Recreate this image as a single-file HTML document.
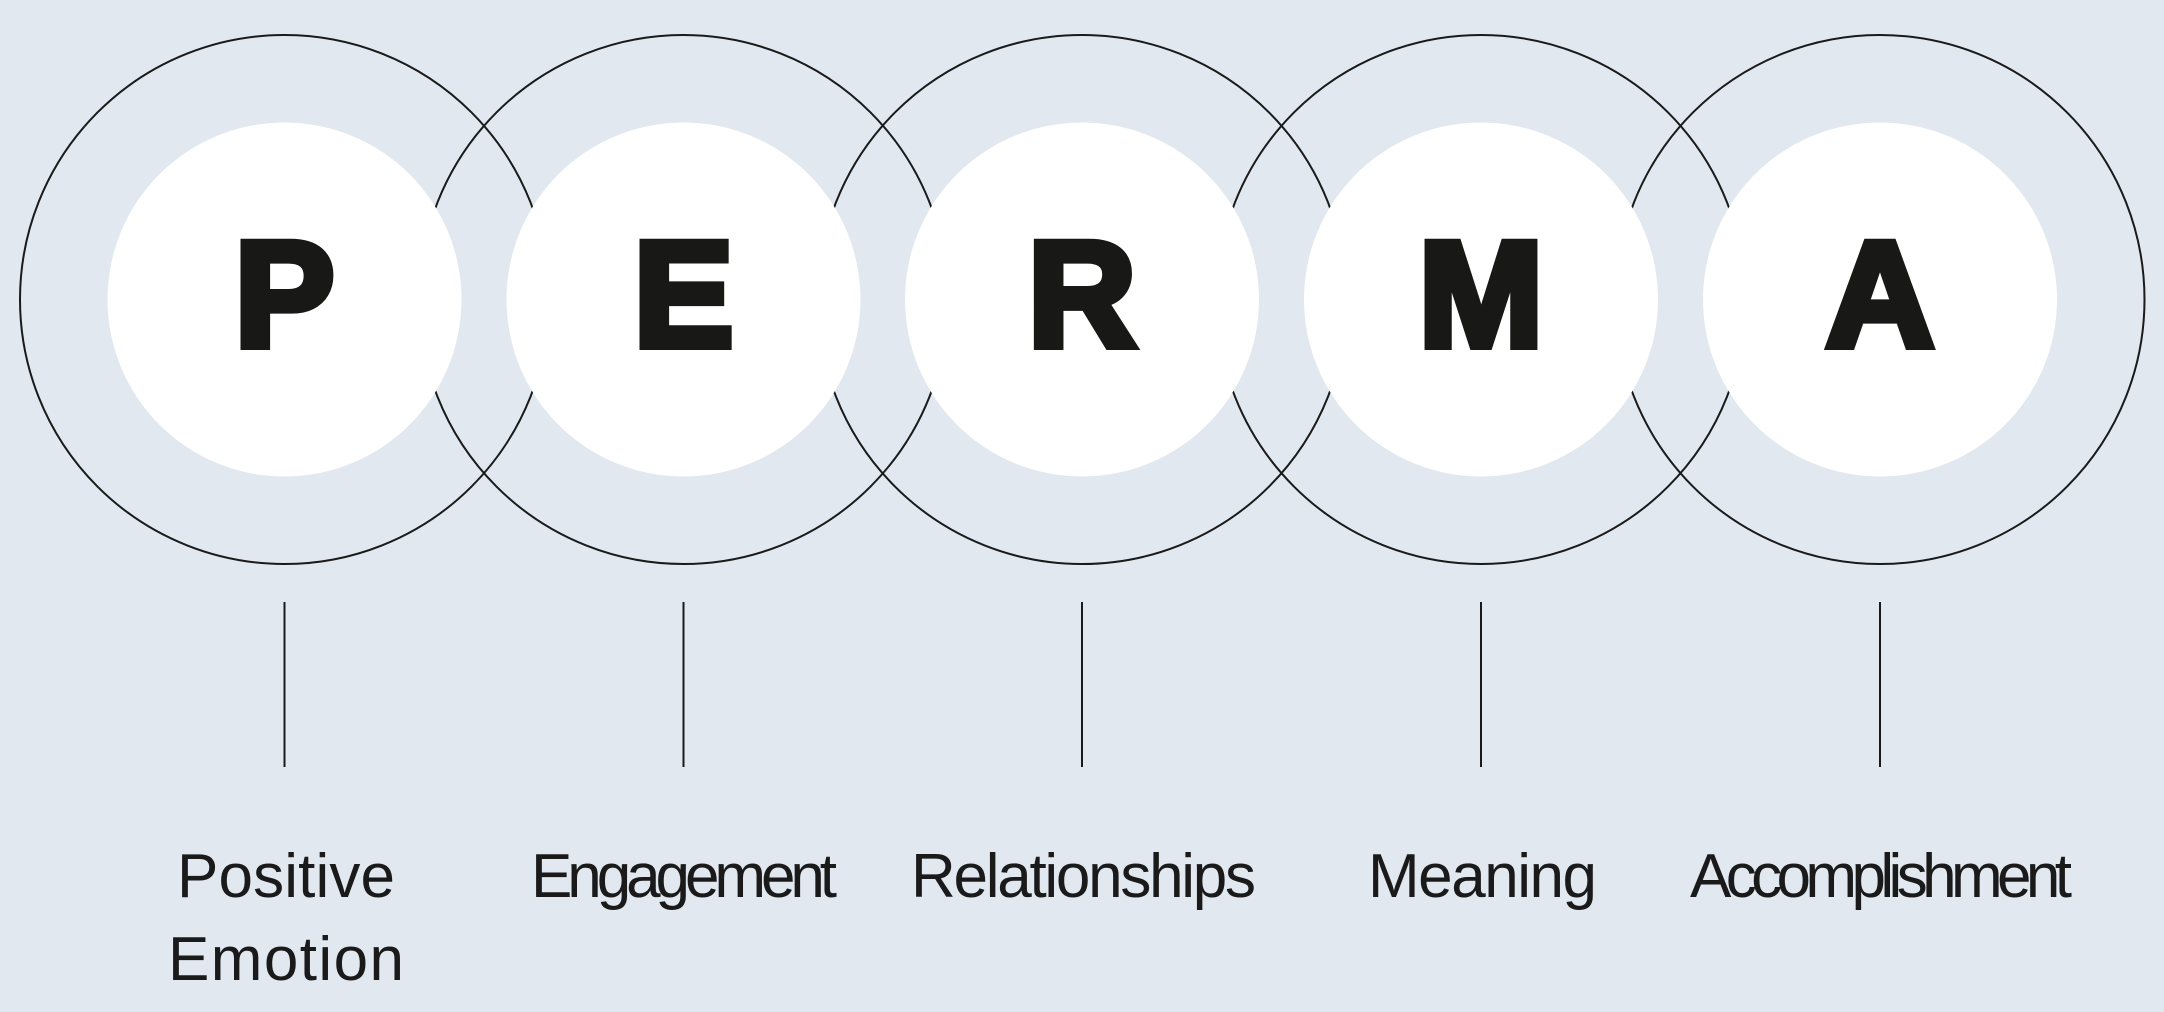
<!DOCTYPE html>
<html><head><meta charset="utf-8"><style>
html,body{margin:0;padding:0;background:#e1e8f0;}
svg{display:block;}
</style></head><body>
<svg width="2164" height="1012" viewBox="0 0 2164 1012" xmlns="http://www.w3.org/2000/svg">
<rect width="2164" height="1012" fill="#e1e8f0"/>
<g fill="none" stroke="#1a1a1a" stroke-width="2">
<circle cx="284.5" cy="299.5" r="264.5"/>
<circle cx="683.5" cy="299.5" r="264.5"/>
<circle cx="1082" cy="299.5" r="264.5"/>
<circle cx="1481" cy="299.5" r="264.5"/>
<circle cx="1880" cy="299.5" r="264.5"/>
</g>
<g fill="#ffffff">
<circle cx="284.5" cy="299.5" r="177"/>
<circle cx="683.5" cy="299.5" r="177"/>
<circle cx="1082" cy="299.5" r="177"/>
<circle cx="1481" cy="299.5" r="177"/>
<circle cx="1880" cy="299.5" r="177"/>
</g>
<g font-family="Liberation Sans, sans-serif" font-weight="bold" font-size="150" fill="#181816" stroke="#181816" stroke-width="8" text-anchor="middle">
<text x="284.5" y="346">P</text>
<text x="683.5" y="346">E</text>
<text x="1082" y="346">R</text>
<text x="1481" y="346">M</text>
<text x="1880" y="346">A</text>
</g>
<g stroke="#1a1a1a" stroke-width="2">
<line x1="284.5" y1="602" x2="284.5" y2="767"/>
<line x1="683.5" y1="602" x2="683.5" y2="767"/>
<line x1="1082" y1="602" x2="1082" y2="767"/>
<line x1="1481" y1="602" x2="1481" y2="767"/>
<line x1="1880" y1="602" x2="1880" y2="767"/>
</g>
<g font-family="Liberation Sans, sans-serif" font-size="62" fill="#1a1a1a">
<text x="177" y="897" textLength="218" lengthAdjust="spacing">Positive</text>
<text x="168" y="980" textLength="236" lengthAdjust="spacing">Emotion</text>
<text x="531" y="897" textLength="306" lengthAdjust="spacing">Engagement</text>
<text x="911" y="897" textLength="345" lengthAdjust="spacing">Relationships</text>
<text x="1368" y="897" textLength="229" lengthAdjust="spacing">Meaning</text>
<text x="1690" y="897" textLength="382" lengthAdjust="spacing">Accomplishment</text>
</g>
</svg>
</body></html>
